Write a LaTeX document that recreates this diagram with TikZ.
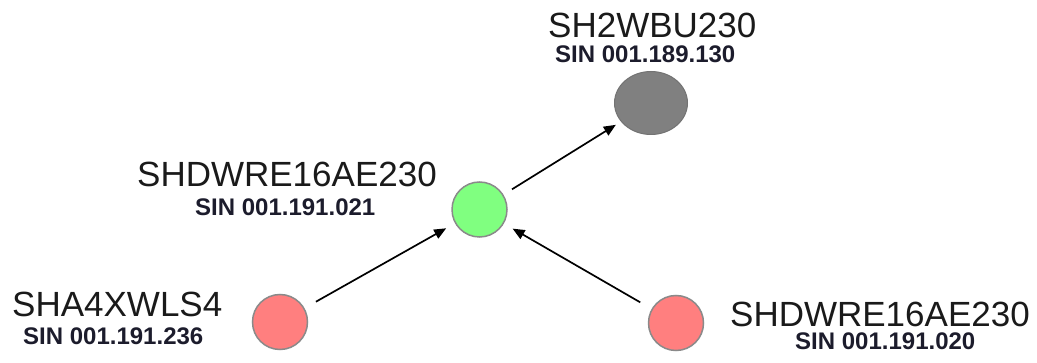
\documentclass[tikz,border=0pt]{standalone}
\usepackage{fontspec}
\setmainfont{Liberation Sans}
\usetikzlibrary{arrows.meta,shapes.geometric}
\definecolor{redfill}{HTML}{FF7F7F}
\definecolor{greenfill}{HTML}{80FF80}
\definecolor{grayfill}{HTML}{808080}
\definecolor{rimcol}{HTML}{8A8A8A}
\definecolor{txtcol}{HTML}{1A1A1A}
\definecolor{sincol}{HTML}{1C1C2C}
\tikzset{
  dot/.style={circle,draw=rimcol,line width=1.5pt,minimum size=55pt,inner sep=0pt},
  namelbl/.style={anchor=base west,inner sep=0pt,text depth=0pt,text=txtcol,font=\fontsize{35}{40}\selectfont},
  sinlbl/.style={anchor=base west,inner sep=0pt,text=sincol,font=\bfseries\fontsize{24}{27}\selectfont},
  arr/.style={-{Triangle[length=12pt,width=10pt]},line width=1.7pt,black,shorten <=13pt,shorten >=10pt}
}
\begin{document}
\begin{tikzpicture}[x=1pt,y=-1pt]
\useasboundingbox (0,0) rectangle (1037,363);
\node[ellipse,fill=grayfill,draw=gray!90!black,line width=1pt,minimum width=73pt,minimum height=63pt,inner sep=0pt] (top) at (651,103) {};
\node[dot,fill=greenfill] (mid) at (479.5,209.5) {};
\node[dot,fill=redfill] (left) at (280,322) {};
\node[dot,fill=redfill] (right) at (676,323) {};
\node[namelbl] (topname) at (548,38) {SH2WBU230};
\node[sinlbl] (topsin) at (555,63) {SIN 001.189.130};
\node[namelbl] (midname) at (137,187) {SHDWRE16AE230};
\node[sinlbl] (midsin) at (195,216) {SIN 001.191.021};
\node[namelbl] (leftname) at (12,317) {SHA4XWLS4};
\node[sinlbl] (leftsin) at (23,345) {SIN 001.191.236};
\node[namelbl] (rightname) at (730,327) {SHDWRE16AE230};
\node[sinlbl] (rightsin) at (795,350) {SIN 001.191.020};
\draw[arr] (left) -- (mid);
\draw[arr] (right) -- (mid);
\draw[arr,shorten <=10pt,shorten >=6pt] (mid) -- (top);
\end{tikzpicture}
\end{document}
